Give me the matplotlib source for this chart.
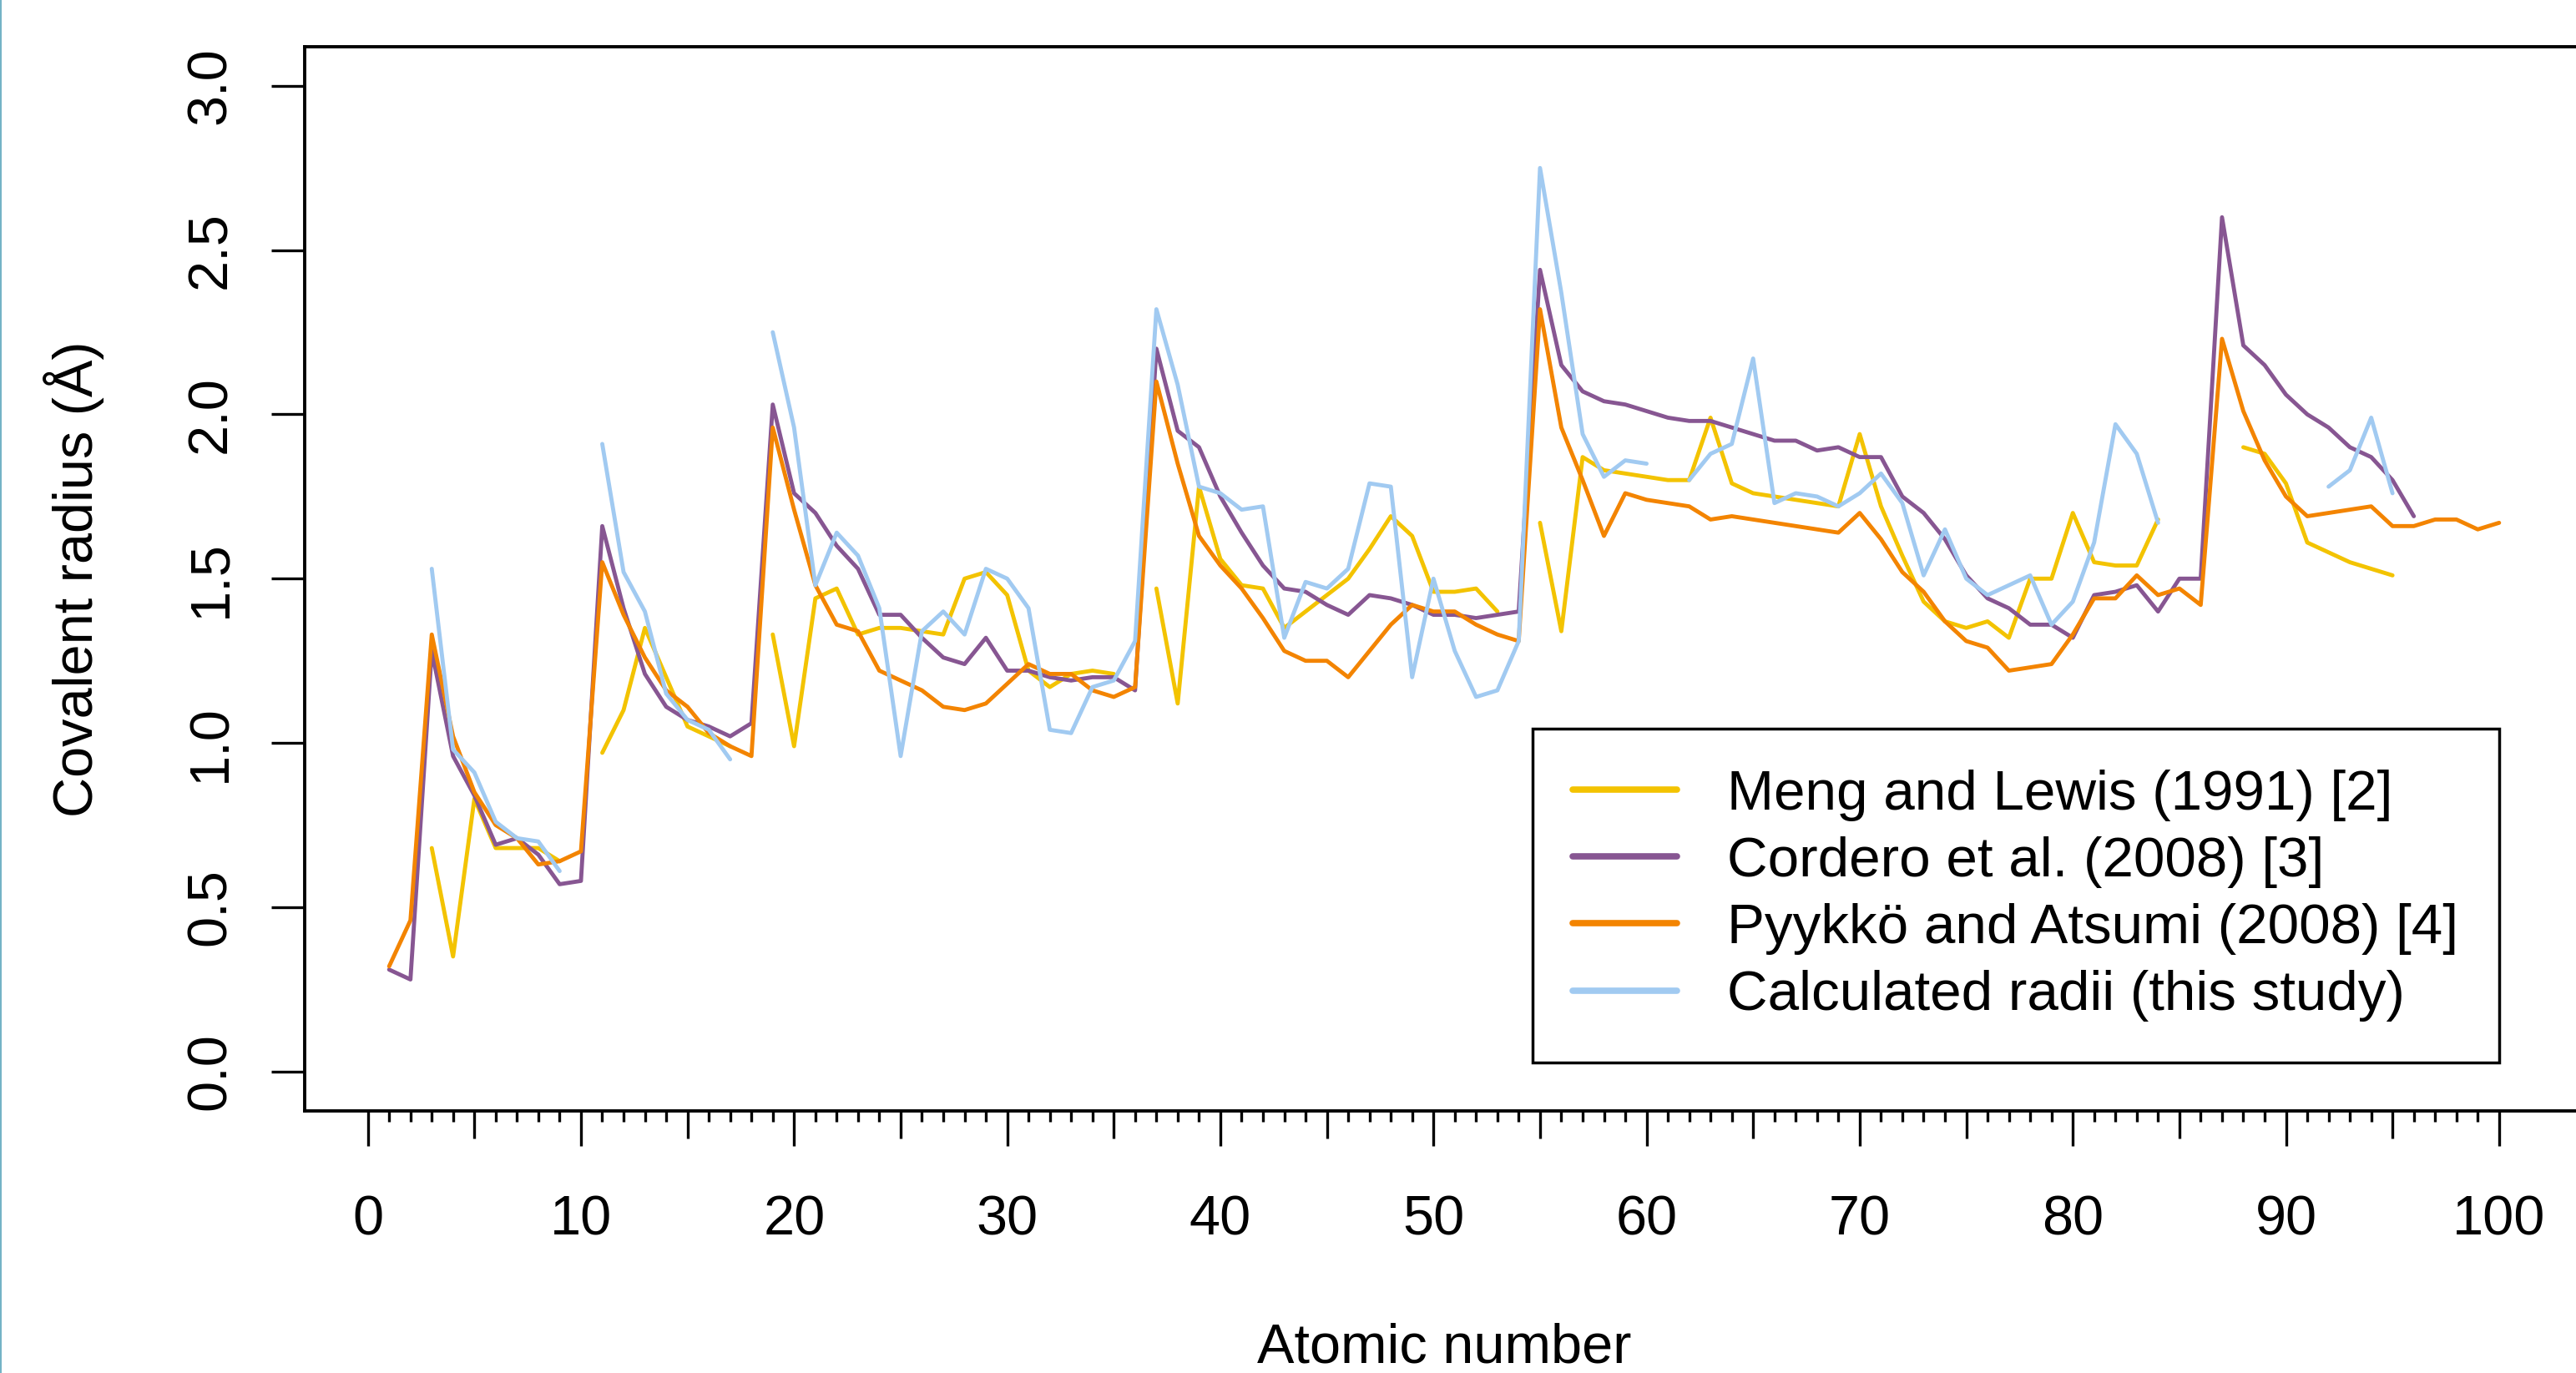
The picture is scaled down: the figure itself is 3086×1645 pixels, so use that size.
#!/usr/bin/env python3
"""Covalent radii by atomic number: literature sets vs calculated radii."""
import numpy as np
import matplotlib.pyplot as plt
from matplotlib.lines import Line2D

plt.rcParams["font.family"] = ["Liberation Sans", "DejaVu Sans"]

nan = np.nan

# Meng and Lewis (1991), Z = 1..95
meng_lewis = [nan, nan, 0.68, 0.35, 0.83, 0.68, 0.68, 0.68, 0.64, nan,
              0.97, 1.10, 1.35, 1.20, 1.05, 1.02, 0.99, nan, 1.33, 0.99,
              1.44, 1.47, 1.33, 1.35, 1.35, 1.34, 1.33, 1.50, 1.52, 1.45,
              1.22, 1.17, 1.21, 1.22, 1.21, nan, 1.47, 1.12, 1.78, 1.56,
              1.48, 1.47, 1.35, 1.40, 1.45, 1.50, 1.59, 1.69, 1.63, 1.46,
              1.46, 1.47, 1.40, nan, 1.67, 1.34, 1.87, 1.83, 1.82, 1.81,
              1.80, 1.80, 1.99, 1.79, 1.76, 1.75, 1.74, 1.73, 1.72, 1.94,
              1.72, 1.57, 1.43, 1.37, 1.35, 1.37, 1.32, 1.50, 1.50, 1.70,
              1.55, 1.54, 1.54, 1.68, nan, nan, nan, 1.90, 1.88, 1.79,
              1.61, 1.58, 1.55, 1.53, 1.51]

# Cordero et al. (2008), Z = 1..96
cordero = [0.31, 0.28, 1.28, 0.96, 0.84, 0.69, 0.71, 0.66, 0.57, 0.58,
           1.66, 1.41, 1.21, 1.11, 1.07, 1.05, 1.02, 1.06, 2.03, 1.76,
           1.70, 1.60, 1.53, 1.39, 1.39, 1.32, 1.26, 1.24, 1.32, 1.22,
           1.22, 1.20, 1.19, 1.20, 1.20, 1.16, 2.20, 1.95, 1.90, 1.75,
           1.64, 1.54, 1.47, 1.46, 1.42, 1.39, 1.45, 1.44, 1.42, 1.39,
           1.39, 1.38, 1.39, 1.40, 2.44, 2.15, 2.07, 2.04, 2.03, 2.01,
           1.99, 1.98, 1.98, 1.96, 1.94, 1.92, 1.92, 1.89, 1.90, 1.87,
           1.87, 1.75, 1.70, 1.62, 1.51, 1.44, 1.41, 1.36, 1.36, 1.32,
           1.45, 1.46, 1.48, 1.40, 1.50, 1.50, 2.60, 2.21, 2.15, 2.06,
           2.00, 1.96, 1.90, 1.87, 1.80, 1.69]

# Pyykko and Atsumi (2008), Z = 1..100
pyykko = [0.32, 0.46, 1.33, 1.02, 0.85, 0.75, 0.71, 0.63, 0.64, 0.67,
          1.55, 1.39, 1.26, 1.16, 1.11, 1.03, 0.99, 0.96, 1.96, 1.71,
          1.48, 1.36, 1.34, 1.22, 1.19, 1.16, 1.11, 1.10, 1.12, 1.18,
          1.24, 1.21, 1.21, 1.16, 1.14, 1.17, 2.10, 1.85, 1.63, 1.54,
          1.47, 1.38, 1.28, 1.25, 1.25, 1.20, 1.28, 1.36, 1.42, 1.40,
          1.40, 1.36, 1.33, 1.31, 2.32, 1.96, 1.80, 1.63, 1.76, 1.74,
          1.73, 1.72, 1.68, 1.69, 1.68, 1.67, 1.66, 1.65, 1.64, 1.70,
          1.62, 1.52, 1.46, 1.37, 1.31, 1.29, 1.22, 1.23, 1.24, 1.33,
          1.44, 1.44, 1.51, 1.45, 1.47, 1.42, 2.23, 2.01, 1.86, 1.75,
          1.69, 1.70, 1.71, 1.72, 1.66, 1.66, 1.68, 1.68, 1.65, 1.67]

# calculated radii (this study), Z = 1..95
calculated = [nan, nan, 1.53, 0.98, 0.91, 0.76, 0.71, 0.70, 0.61, nan,
              1.91, 1.52, 1.40, 1.15, 1.07, 1.04, 0.95, nan, 2.25, 1.96,
              1.48, 1.64, 1.57, 1.41, 0.96, 1.34, 1.40, 1.33, 1.53, 1.50,
              1.41, 1.04, 1.03, 1.17, 1.19, 1.31, 2.32, 2.09, 1.78, 1.76,
              1.71, 1.72, 1.32, 1.49, 1.47, 1.53, 1.79, 1.78, 1.20, 1.50,
              1.28, 1.14, 1.16, 1.31, 2.75, 2.37, 1.94, 1.81, 1.86, 1.85,
              nan, 1.80, 1.88, 1.91, 2.17, 1.73, 1.76, 1.75, 1.72, 1.76,
              1.82, 1.73, 1.51, 1.65, 1.50, 1.45, 1.48, 1.51, 1.36, 1.43,
              1.61, 1.97, 1.88, 1.67, nan, nan, nan, nan, nan, nan,
              nan, 1.78, 1.83, 1.99, 1.76]

series = [
    (meng_lewis, "Meng and Lewis (1991) [2]", "#F3C300"),
    (cordero, "Cordero et al. (2008) [3]", "#875692"),
    (pyykko, "Pyykkö and Atsumi (2008) [4]", "#F38400"),
    (calculated, "Calculated radii (this study)", "#A1CAF1"),
]

fig = plt.figure(figsize=(30.86, 16.45), dpi=100)
ax = fig.add_axes([0.1183, 0.1909, 0.8846, 0.7753])

for vals, label, col in series:
    z = np.arange(1, len(vals) + 1)
    ax.plot(z, np.array(vals, dtype=float), color=col, linewidth=3.5,
            label=label, solid_capstyle="round", solid_joinstyle="round")

ax.set_xlim(-2.96, 103.96)
ax.set_ylim(-0.12, 3.12)

# x axis: long ticks every 10, medium every 5, short every 1
major = list(range(0, 101, 5))
ax.set_xticks(major)
ax.set_xticklabels([str(v) if v % 10 == 0 else "" for v in major])
ax.set_xticks(np.arange(0, 101, 1), minor=True)
ax.tick_params(axis="x", which="major", direction="out", length=30.2,
               width=2.4, pad=42.5, labelsize=48)
ax.tick_params(axis="x", which="minor", direction="out", length=9.4,
               width=2.4)
for v, t in zip(major, ax.xaxis.get_major_ticks()):
    if v % 10:
        t.tick1line.set_markersize(23.8)

yt = [0.0, 0.5, 1.0, 1.5, 2.0, 2.5, 3.0]
ax.set_yticks(yt)
ax.set_yticklabels([f"{v:.1f}" for v in yt], rotation=90, va="center")
ax.tick_params(axis="y", direction="out", length=28.8, width=2.4,
               pad=29.5, labelsize=48)

for sp in ax.spines.values():
    sp.set_linewidth(2.8)

ax.set_xlabel("Atomic number", fontsize=48)
ax.xaxis.set_label_coords(0.5, -0.199)
ax.set_ylabel("Covalent radius (Å)", fontsize=48)
ax.yaxis.set_label_coords(-0.0879, 0.5)

leg = ax.legend(loc="lower right", bbox_to_anchor=(100, 0.028),
                bbox_transform=ax.transData, fontsize=48.5, handlelength=1.85,
                handletextpad=0.9, labelspacing=0.27, borderpad=0.72,
                borderaxespad=0, fancybox=False, framealpha=1,
                edgecolor="black")
leg.get_frame().set_linewidth(2.5)
for h in leg.get_lines():
    h.set_linewidth(5.5)

# thin edge line left over from the original crop
fig.add_artist(Line2D([0.0003, 0.0003], [0, 1], transform=fig.transFigure,
                      color="#74b3c6", linewidth=1.5))

fig.savefig("out.png", dpi=100)
